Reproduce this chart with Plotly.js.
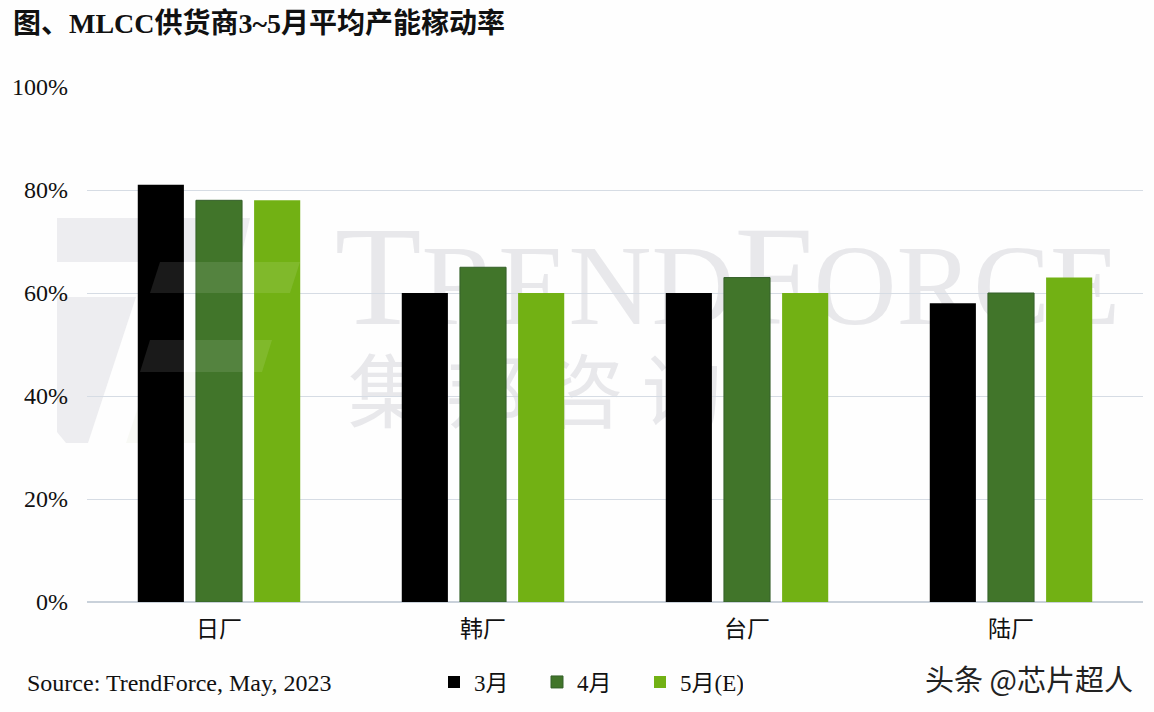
<!DOCTYPE html>
<html><head><meta charset="utf-8">
<script src="https://cdn.plot.ly/plotly-3.0.1.min.js"></script>
<style>html,body{margin:0;padding:0;background:#fefefe}</style></head>
<body><div id="chart" style="width:1154px;height:712px"></div>
<script>
const categories = ['日厂','韩厂','台厂','陆厂'];
const march = [81,60,60,58];
const april = [78,65,63,60];
const may = [78,60,60,63];
const seriesNames = ['3月','4月','5月(E)'];
const seriesColors = ['#000000','#41752a','#72b114'];
const tickValues = [0,20,40,60,80,100];
const tickLabels = ['0%','20%','40%','60%','80%','100%'];
const titleText = '图、MLCC供货商3~5月平均产能稼动率';
const sourceText = 'Source: TrendForce, May, 2023';
const creditText = '头条 @芯片超人';

const W=1154,H=712,L=87,R=11,T=87,B=110;
const serif='"Liberation Serif","Noto Sans CJK SC",serif';
const px=x=>(x-L)/(W-L-R), py=y=>(H-B-y)/(H-T-B);
const wmGrey='#ededf0';
function poly(pts,color,layer){
  return {type:'path',xref:'paper',yref:'paper',layer:layer||'below',line:{width:0},fillcolor:color,
    path:'M'+pts.map(p=>px(p[0])+','+py(p[1])).join('L')+'Z'};
}
function wmText(x0,y0,x1,y1,text,size,family){
  return {type:'rect',xref:'paper',yref:'paper',layer:'below',x0:px(x0),x1:px(x1),y0:py(y1),y1:py(y0),
    line:{width:0},fillcolor:'rgba(0,0,0,0)',
    label:{text:text,textposition:'middle center',font:{size:size,family:family,color:'#e8e8eb'}}};
}
const shapes=[
  poly([[57,218],[250,218],[240,262],[57,262]],wmGrey),
  poly([[57,297],[136,297],[88,443],[66,443],[57,432]],wmGrey),
  poly([[126,443],[150,372],[230,372],[205,443]],'#f8f9f5'),
  wmText(320,223,1135,353,'<span style="font-size:142px">T</span>REND<span style="font-size:142px">F</span>ORCE',115,'"Liberation Serif",serif'),
  wmText(320,351,750,446,'集 邦 咨 询',80,'"Noto Sans CJK SC",sans-serif'),
  poly([[160,262],[300,262],[290,293],[150,293]],'rgba(255,255,255,0.1)','above'),
  poly([[150,340],[272,340],[262,372],[140,372]],'rgba(255,255,255,0.1)','above')
];
const allValues=[march,april,may];
const traces=allValues.map((v,i)=>({
  type:'bar',name:seriesNames[i],x:categories,y:v,
  marker:{color:seriesColors[i],line:{width:i===1?1:0,color:'#35602a'}},
  hovertemplate:'%{x} '+seriesNames[i]+': %{y}%<extra></extra>'
}));
const layout={
  width:W,height:H,autosize:false,
  paper_bgcolor:'#fefefe',plot_bgcolor:'rgba(0,0,0,0)',
  margin:{l:L,r:R,t:T,b:B,pad:0},
  barmode:'group',bargap:0.339,bargroupgap:0.207,
  font:{family:serif,color:'#111'},
  title:{text:titleText,x:13/W,xanchor:'left',y:1-23/H,yanchor:'middle',
    font:{size:28,family:serif,weight:700,color:'#111'}},
  xaxis:{type:'category',tickfont:{size:23,family:'"Noto Sans CJK SC",sans-serif',color:'#111'},
    ticks:'',showline:false,showgrid:false,zeroline:false,ticklabelstandoff:11,automargin:false},
  yaxis:{range:[0,100],tickvals:tickValues,ticktext:tickLabels,
    tickfont:{size:24,family:serif,color:'#111'},ticks:'',ticklabelstandoff:18,
    showgrid:true,gridcolor:'#d6dce4',gridwidth:1,zeroline:true,zerolinecolor:'#c9d1da',zerolinewidth:1.5,
    showline:false,automargin:false},
  legend:{orientation:'h',xref:'container',yref:'container',x:434/W,xanchor:'left',y:(H-682)/H,yanchor:'middle',
    font:{size:23,family:serif,color:'#111'},entrywidth:58,entrywidthmode:'pixels',
    itemclick:false,itemdoubleclick:false,bgcolor:'rgba(0,0,0,0)',traceorder:'normal'},
  showlegend:true,
  shapes:shapes,
  annotations:[
    {text:sourceText,xref:'paper',yref:'paper',x:px(25),y:py(683),xanchor:'left',yanchor:'middle',showarrow:false,
      font:{size:24,family:serif,color:'#111'}},
    {text:creditText,xref:'paper',yref:'paper',x:px(1135),y:py(678),xanchor:'right',yanchor:'middle',showarrow:false,
      font:{size:29,family:'"Noto Sans CJK SC",sans-serif',color:'#222'}}
  ]
};
Plotly.newPlot('chart',traces,layout,{displayModeBar:false,responsive:false});
</script></body></html>
